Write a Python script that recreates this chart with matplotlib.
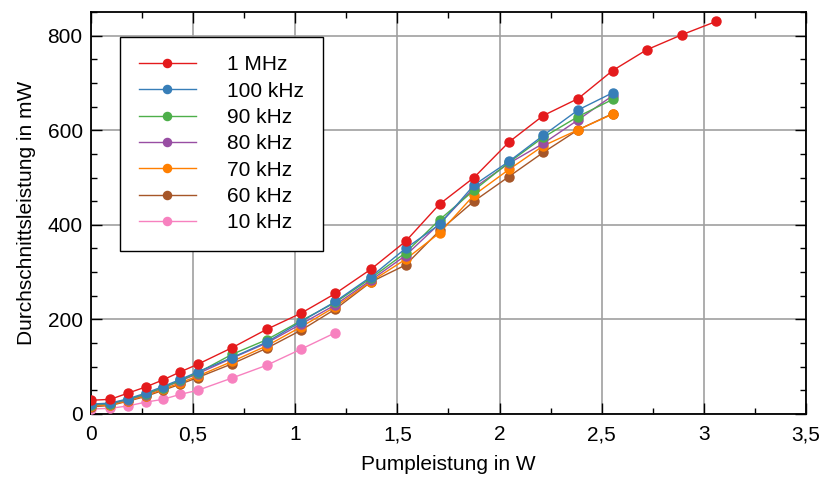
import matplotlib
matplotlib.use("Agg")
import matplotlib.pyplot as plt
from matplotlib.ticker import MultipleLocator

plt.rcParams['font.family'] = ['Liberation Sans', 'DejaVu Sans']

pump = [0, 0.095, 0.18, 0.267, 0.352, 0.437, 0.522, 0.69, 0.86, 1.028, 1.197,
        1.37, 1.54, 1.707, 1.875, 2.046, 2.214, 2.385, 2.553, 2.72, 2.893, 3.06]

p_1mhz = [29, 31, 44, 57, 72, 89, 105, 140, 179, 213, 255, 306, 365, 444, 500,
          575, 631, 667, 726, 770, 802, 830]
p_100khz = [21, 23, 32, 44, 58, 73, 89, 119, 152, 195, 238, 290, 350, 401, 484,
            534, 589, 643, 679]
p_90khz = [20, 22, 31, 42, 56, 71, 87, 126, 157, 197, 236, 287, 341, 411, 473,
           532, 585, 629, 665]
p_80khz = [19, 21, 30, 41, 55, 70, 85, 118, 150, 190, 231, 283, 335, 403, 478,
           530, 572, 622, 673]
p_70khz = [17, 19, 28, 39, 52, 66, 80, 111, 144, 184, 227, 280, 327, 383, 463,
           517, 567, 601, 634]
p_60khz = [15, 18, 27, 37, 50, 63, 77, 106, 139, 177, 222, 279, 315, 388, 450,
           502, 553, 601, 635]
p_10khz = [10.5, 12, 17, 25, 31, 41.5, 50, 76, 103, 137, 172]

labels = ['1 MHz', '100 kHz', '90 kHz', '80 kHz', '70 kHz', '60 kHz', '10 kHz']
series = [p_1mhz, p_100khz, p_90khz, p_80khz, p_70khz, p_60khz, p_10khz]
colors = ['#e41a1c', '#377eb8', '#4daf4a', '#984ea3', '#ff7f00', '#a65628', '#f781bf']

xticks = [0, 0.5, 1, 1.5, 2, 2.5, 3, 3.5]
xticklabels = ['0', '0,5', '1', '1,5', '2', '2,5', '3', '3,5']
yticks = [0, 200, 400, 600, 800]

fig = plt.figure(figsize=(8.21, 4.78), dpi=100)
ax = fig.add_axes([0.1108, 0.1339, 0.8709, 0.841])

handles = {}
# draw from last to first so blue/red end up on top
for lab, ys, c in reversed(list(zip(labels, series, colors))):
    h, = ax.plot(pump[:len(ys)], ys, '-o', color=c, lw=1, ms=6.5,
                 mec=c, label=lab, zorder=3)
    handles[lab] = h

ax.set_xlim(0, 3.5)
ax.set_ylim(0, 850)
ax.set_xticks(xticks)
ax.set_xticklabels(xticklabels)
ax.set_yticks(yticks)
ax.xaxis.set_minor_locator(MultipleLocator(0.25))
ax.yaxis.set_minor_locator(MultipleLocator(50))

ax.grid(True, which='major', color='#a0a0a0', lw=1.2, zorder=0)
ax.tick_params(which='both', direction='in', top=True, right=True,
               labelsize=15, color='black')
ax.tick_params(which='major', length=8, width=1, pad=6)
ax.tick_params(axis='x', which='major', pad=8)
ax.tick_params(which='minor', length=4, width=1)
for s in ax.spines.values():
    s.set_linewidth(1.3)

ax.set_xlabel('Pumpleistung in W', fontsize=15, labelpad=8)
ax.set_ylabel('Durchschnittsleistung in mW', fontsize=15, labelpad=8)

leg = ax.legend([handles[l] for l in labels], labels, loc='upper left',
                bbox_to_anchor=(0.0406, 0.9386), borderaxespad=0,
                fontsize=15, handlelength=2.75, handletextpad=1.5,
                labelspacing=0.35, borderpad=0.9, fancybox=False,
                framealpha=1, edgecolor='black', markerscale=0.9)
leg.get_frame().set_linewidth(1.0)

fig.savefig('out.png', dpi=100)
